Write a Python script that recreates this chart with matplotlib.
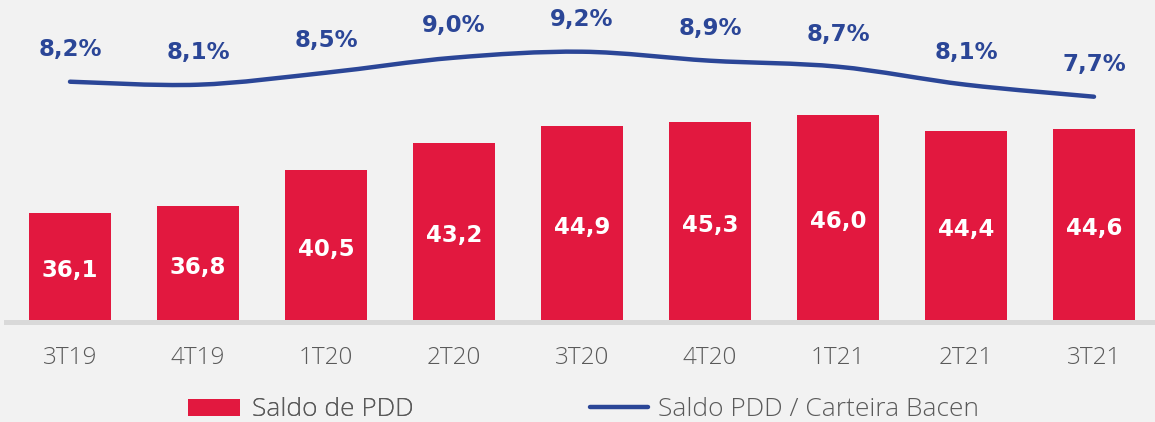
import matplotlib
matplotlib.use("Agg")
import matplotlib.pyplot as plt
from matplotlib.path import Path
from matplotlib.patches import PathPatch, Patch
from matplotlib.lines import Line2D
import numpy as np

categories = ["3T19", "4T19", "1T20", "2T20", "3T20", "4T20", "1T21", "2T21", "3T21"]
saldo_pdd = [36.1, 36.8, 40.5, 43.2, 44.9, 45.3, 46.0, 44.4, 44.6]
ratio_pct = [8.2, 8.1, 8.5, 9.0, 9.2, 8.9, 8.7, 8.1, 7.7]
bar_labels = ["36,1", "36,8", "40,5", "43,2", "44,9", "45,3", "46,0", "44,4", "44,6"]
pct_labels = ["8,2%", "8,1%", "8,5%", "9,0%", "9,2%", "8,9%", "8,7%", "8,1%", "7,7%"]

RED = "#E2183F"
BLUE = "#2B4697"
BG = "#F2F2F2"
GRAY_TXT = "#5A5A5A"

W, H = 1155, 422
fig = plt.figure(figsize=(W / 100, H / 100), dpi=100)
fig.patch.set_facecolor(BG)

ax_bottom_px = 321.5
ax = fig.add_axes([0, (H - ax_bottom_px) / H, 1, ax_bottom_px / H])
ax.set_facecolor(BG)
ax.patch.set_alpha(0)

x = np.arange(len(categories))
ax.set_xlim(-70 / 128, (W - 70) / 128)
ymin = 25.12
ax.set_ylim(ymin, ymin + ax_bottom_px / 9.88)

ax.bar(x, saldo_pdd, width=0.64, color=RED, zorder=2)
for xi, v, lab in zip(x, saldo_pdd, bar_labels):
    ax.annotate(lab, (xi, (v + 25.37) / 2), xytext=(0, -3.5), textcoords="offset points",
                ha="center", va="center", color="white", fontsize=16.5,
                fontweight="bold", family="DejaVu Sans", zorder=4)

ax.axhline(ymin, xmin=6 / W, xmax=1, color="#D9D9D9", lw=3.6, zorder=3, clip_on=False)

for s in ax.spines.values():
    s.set_visible(False)
ax.set_yticks([])
ax.set_xticks(x)
ax.set_xticklabels(categories, fontsize=17.5, color=GRAY_TXT, family="Open Sans", fontweight="light")
ax.tick_params(axis="x", length=0, pad=17.5)

ax2 = ax.twinx()
for s in ax2.spines.values():
    s.set_visible(False)
ax2.set_yticks([])
y2min = 0.207
ax2.set_ylim(y2min, y2min + ax_bottom_px / 30)

# smooth curve (Catmull-Rom as cubic Bezier) through the data points
px = np.asarray(x, dtype=float)
py = np.asarray(ratio_pct, dtype=float)
verts = [(px[0], py[0])]
codes = [Path.MOVETO]
n = len(px)
for i in range(n - 1):
    p0 = (px[max(i - 1, 0)], py[max(i - 1, 0)])
    p1 = (px[i], py[i])
    p2 = (px[i + 1], py[i + 1])
    p3 = (px[min(i + 2, n - 1)], py[min(i + 2, n - 1)])
    c1 = (p1[0] + (p2[0] - p0[0]) / 6, p1[1] + (p2[1] - p0[1]) / 6)
    c2 = (p2[0] - (p3[0] - p1[0]) / 6, p2[1] - (p3[1] - p1[1]) / 6)
    verts += [c1, c2, p2]
    codes += [Path.CURVE4] * 3
patch = PathPatch(Path(verts, codes), fill=False, edgecolor=BLUE, lw=3.2,
                  capstyle="round", joinstyle="round", transform=ax2.transData, zorder=5)
ax2.add_patch(patch)

for xi, v, lab in zip(x, ratio_pct, pct_labels):
    ax2.annotate(lab, (xi, v), xytext=(0, 23), textcoords="offset points",
                 ha="center", va="center", color=BLUE, fontsize=16.5,
                 fontweight="bold", family="DejaVu Sans")

prop = {"family": "Open Sans", "weight": "light", "size": 19}
leg1 = fig.legend([Patch(facecolor=RED, edgecolor="none")], ["Saldo de PDD"],
                  loc="center left", bbox_to_anchor=(188 / W, 1 - 410 / H),
                  frameon=False, prop=prop, handlelength=1.97, handleheight=0.6,
                  handletextpad=0.45, borderaxespad=0, borderpad=0)
leg2 = fig.legend([Line2D([0], [0], color=BLUE, lw=3.2, solid_capstyle="round")],
                  ["Saldo PDD / Carteira Bacen"],
                  loc="center left", bbox_to_anchor=(590 / W, 1 - 410 / H),
                  frameon=False, prop=prop, handlelength=2.2,
                  handletextpad=0.38, borderaxespad=0, borderpad=0)
fig.add_artist(leg1)
for lg in (leg1, leg2):
    for t in lg.get_texts():
        t.set_color(GRAY_TXT)

fig.savefig("out.png", dpi=100, facecolor=BG)
